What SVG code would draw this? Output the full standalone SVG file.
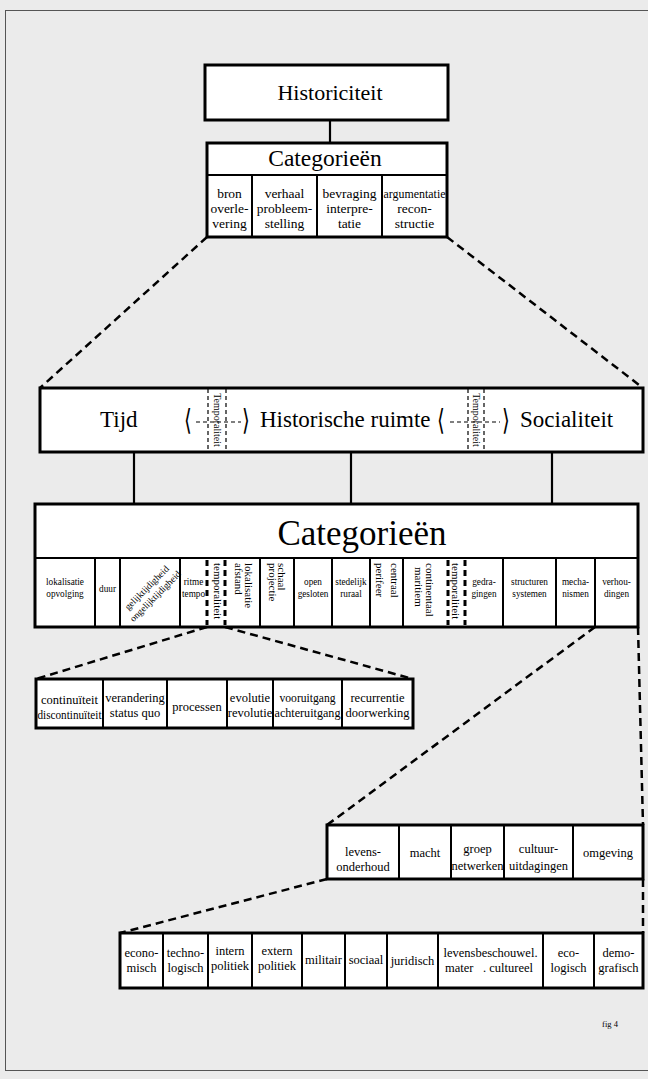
<svg xmlns="http://www.w3.org/2000/svg" width="648" height="1079" viewBox="0 0 648 1079">
<style>
text{font-family:"Liberation Serif","Times New Roman",serif;fill:#000}
.box{fill:#fff;stroke:#000;stroke-width:3}
.dv{stroke:#000;stroke-width:2}
.dash{fill:none;stroke:#000;stroke-width:2.5;stroke-dasharray:8 5}
.dcell{stroke:#000;stroke-width:3;stroke-dasharray:6 4}
.dthin{stroke:#000;stroke-width:1.2;stroke-dasharray:4 3}
.ln{stroke:#000;stroke-width:2.2}
.c13{font-size:13.5px;text-anchor:middle}
.big{font-size:23px}
.cr{font-size:10.5px;text-anchor:middle}
.vt{font-size:11px}
.r12{font-size:12.5px;text-anchor:middle}
.chev{font-family:"DejaVu Sans",sans-serif;font-size:20px}
</style>
<rect x="0" y="0" width="648" height="1079" fill="#ebebeb"/>
<rect x="5.5" y="10.5" width="660" height="1060" fill="none" stroke="#555" stroke-width="1"/>

<g id="connectors">
<line class="ln" x1="330" y1="120" x2="330" y2="143"/>
<line class="dash" x1="207" y1="237" x2="40" y2="388"/>
<line class="dash" x1="447" y1="237" x2="643" y2="388"/>
<line class="ln" x1="134" y1="452" x2="134" y2="504"/>
<line class="ln" x1="351" y1="452" x2="351" y2="504"/>
<line class="ln" x1="552" y1="452" x2="552" y2="504"/>
<line class="dash" x1="207" y1="627" x2="36" y2="679"/>
<line class="dash" x1="225" y1="627" x2="413" y2="679"/>
<line class="dash" x1="595" y1="627" x2="327" y2="825"/>
<line class="dash" x1="638" y1="627" x2="643" y2="825"/>
<line class="dash" x1="327" y1="879" x2="120" y2="933"/>
<line class="dash" x1="643" y1="879" x2="643" y2="933"/>
</g>

<g id="historiciteit">
<rect class="box" x="205" y="65" width="243" height="55"/>
<text x="330" y="100" font-size="22" text-anchor="middle">Historiciteit</text>
</g>

<g id="categorieen-top">
<rect class="box" x="207" y="143" width="240" height="94"/>
<line class="dv" x1="207" y1="175" x2="447" y2="175"/>
<line class="dv" x1="252" y1="175" x2="252" y2="237"/>
<line class="dv" x1="317" y1="175" x2="317" y2="237"/>
<line class="dv" x1="382" y1="175" x2="382" y2="237"/>
<text x="325" y="166" font-size="23.5" text-anchor="middle">Categorieën</text>
<text class="c13" x="229.5" y="198">bron<tspan x="229.5" dy="15">overle-</tspan><tspan x="229.5" dy="15">vering</tspan></text>
<text class="c13" x="284.5" y="198">verhaal<tspan x="284.5" dy="15">probleem-</tspan><tspan x="284.5" dy="15">stelling</tspan></text>
<text class="c13" x="349.5" y="198">bevraging<tspan x="349.5" dy="15">interpre-</tspan><tspan x="349.5" dy="15">tatie</tspan></text>
<text class="c13" x="414.5" y="198" textLength="62" lengthAdjust="spacingAndGlyphs">argumentatie</text>
<text class="c13" x="414.5" y="213">recon-<tspan x="414.5" dy="15">structie</tspan></text>
</g>

<g id="tijd-ruimte-socialiteit">
<rect class="box" x="40" y="388" width="603" height="64"/>
<text class="big" x="100" y="427">Tijd</text>
<text class="big" x="260" y="427">Historische ruimte</text>
<text class="big" x="520" y="427">Socialiteit</text>
<text class="chev" transform="translate(184,430) scale(1,1.45)">⟨</text>
<text class="chev" transform="translate(242,430) scale(1,1.45)">⟩</text>
<text class="chev" transform="translate(437,430) scale(1,1.45)">⟨</text>
<text class="chev" transform="translate(502,430) scale(1,1.45)">⟩</text>
<line class="dthin" x1="196" y1="422" x2="241" y2="422" stroke-dasharray="5 4"/>
<line class="dthin" x1="450" y1="422" x2="500" y2="422" stroke-dasharray="5 4"/>
<line class="dthin" x1="208" y1="389" x2="208" y2="451"/>
<line class="dthin" x1="226" y1="389" x2="226" y2="451"/>
<line class="dthin" x1="468" y1="389" x2="468" y2="451"/>
<line class="dthin" x1="484" y1="389" x2="484" y2="451"/>
<text font-size="10" text-anchor="middle" transform="translate(214,420) rotate(90)">Temporaliteit</text>
<text font-size="10" text-anchor="middle" transform="translate(472.5,420) rotate(90)">Temporaliteit</text>
</g>

<g id="categorieen-main">
<rect class="box" x="35" y="504" width="603" height="123"/>
<line class="dv" x1="35" y1="558" x2="638" y2="558"/>
<text x="362" y="545" font-size="35" text-anchor="middle">Categorieën</text>
<line class="dv" x1="95" y1="558" x2="95" y2="627"/>
<line class="dv" x1="120" y1="558" x2="120" y2="627"/>
<line class="dv" x1="180" y1="558" x2="180" y2="627"/>
<line class="dcell" x1="207" y1="560" x2="207" y2="625"/>
<line class="dcell" x1="225" y1="560" x2="225" y2="625"/>
<line class="dv" x1="260" y1="558" x2="260" y2="627"/>
<line class="dv" x1="294" y1="558" x2="294" y2="627"/>
<line class="dv" x1="332" y1="558" x2="332" y2="627"/>
<line class="dv" x1="370" y1="558" x2="370" y2="627"/>
<line class="dv" x1="403" y1="558" x2="403" y2="627"/>
<line class="dcell" x1="448" y1="560" x2="448" y2="625"/>
<line class="dcell" x1="465" y1="560" x2="465" y2="625"/>
<line class="dv" x1="503" y1="558" x2="503" y2="627"/>
<line class="dv" x1="556" y1="558" x2="556" y2="627"/>
<line class="dv" x1="595" y1="558" x2="595" y2="627"/>

<text class="cr" transform="translate(65,585) scale(0.88,1)">lokalisatie<tspan x="0" dy="12">opvolging</tspan></text>
<text class="cr" transform="translate(107.5,592) scale(0.88,1)">duur</text>
<text class="cr" transform="translate(193.5,585) scale(0.88,1)">ritme<tspan x="0" dy="12">tempo</tspan></text>
<text class="cr" transform="translate(313,585) scale(0.88,1)">open<tspan x="0" dy="12">gesloten</tspan></text>
<text class="cr" transform="translate(351,585) scale(0.88,1)">stedelijk<tspan x="0" dy="12">ruraal</tspan></text>
<text class="cr" transform="translate(484,585) scale(0.88,1)">gedra-<tspan x="0" dy="12">gingen</tspan></text>
<text class="cr" transform="translate(529.5,585) scale(0.88,1)">structuren<tspan x="0" dy="12">systemen</tspan></text>
<text class="cr" transform="translate(575.5,585) scale(0.88,1)">mecha-<tspan x="0" dy="12">nismen</tspan></text>
<text class="cr" transform="translate(616.5,585) scale(0.88,1)">verhou-<tspan x="0" dy="12">dingen</tspan></text>

<text font-size="9.5" text-anchor="middle" transform="translate(149,590) rotate(-45)">gelijktijdigheid<tspan x="0" dy="12">ongelijktijdigheid</tspan></text>

<text class="vt" transform="translate(213.5,563) rotate(90)">temporaliteit</text>
<text class="vt" transform="translate(245,563) rotate(90)">lokalisatie</text>
<text class="vt" transform="translate(234.5,563) rotate(90)">afstand</text>
<text class="vt" transform="translate(278,563) rotate(90)">schaal</text>
<text class="vt" transform="translate(268.5,563) rotate(90)">projectie</text>
<text class="vt" transform="translate(390.5,563) rotate(90)">centraal</text>
<text class="vt" transform="translate(376,563) rotate(90)">perifeer</text>
<text class="vt" transform="translate(426,563) rotate(90)">continentaal</text>
<text class="vt" transform="translate(415,567) rotate(90)">maritiem</text>
<text class="vt" transform="translate(452,563) rotate(90)">temporaliteit</text>
</g>

<g id="temporaliteit-row">
<rect class="box" x="36" y="679" width="377" height="49"/>
<line class="dv" x1="103" y1="679" x2="103" y2="728"/>
<line class="dv" x1="167" y1="679" x2="167" y2="728"/>
<line class="dv" x1="227" y1="679" x2="227" y2="728"/>
<line class="dv" x1="273" y1="679" x2="273" y2="728"/>
<line class="dv" x1="342" y1="679" x2="342" y2="728"/>
<text class="r12" x="69.5" y="704">continuïteit</text>
<text class="r12" x="69.5" y="719" textLength="64" lengthAdjust="spacingAndGlyphs">discontinuïteit</text>
<text class="r12" x="135" y="702">verandering<tspan x="135" dy="15">status quo</tspan></text>
<text class="r12" x="197" y="711">processen</text>
<text class="r12" x="250" y="702">evolutie<tspan x="250" dy="15">revolutie</tspan></text>
<text class="r12" x="307.5" y="702" textLength="56" lengthAdjust="spacingAndGlyphs">vooruitgang</text>
<text class="r12" x="307.5" y="717" textLength="66" lengthAdjust="spacingAndGlyphs">achteruitgang</text>
<text class="r12" x="377.5" y="702">recurrentie<tspan x="377.5" dy="15">doorwerking</tspan></text>
</g>

<g id="verhoudingen-row">
<rect class="box" x="327" y="825" width="316" height="54"/>
<line class="dv" x1="399" y1="825" x2="399" y2="879"/>
<line class="dv" x1="451" y1="825" x2="451" y2="879"/>
<line class="dv" x1="504" y1="825" x2="504" y2="879"/>
<line class="dv" x1="573" y1="825" x2="573" y2="879"/>
<text class="r12" x="363" y="856">levens-<tspan x="363" dy="15">onderhoud</tspan></text>
<text class="r12" x="425" y="857">macht</text>
<text class="r12" x="477.5" y="853">groep<tspan x="477.5" dy="17">netwerken</tspan></text>
<text class="r12" x="538.5" y="853">cultuur-<tspan x="538.5" dy="17">uitdagingen</tspan></text>
<text class="r12" x="608" y="857">omgeving</text>
</g>

<g id="domeinen-row">
<rect class="box" x="120" y="933" width="523" height="55"/>
<line class="dv" x1="163" y1="933" x2="163" y2="988"/>
<line class="dv" x1="208" y1="933" x2="208" y2="988"/>
<line class="dv" x1="252" y1="933" x2="252" y2="988"/>
<line class="dv" x1="302" y1="933" x2="302" y2="988"/>
<line class="dv" x1="345" y1="933" x2="345" y2="988"/>
<line class="dv" x1="387" y1="933" x2="387" y2="988"/>
<line class="dv" x1="438" y1="933" x2="438" y2="988"/>
<line class="dv" x1="543" y1="933" x2="543" y2="988"/>
<line class="dv" x1="594" y1="933" x2="594" y2="988"/>
<text class="r12" x="141.5" y="957">econo-<tspan x="141.5" dy="15">misch</tspan></text>
<text class="r12" x="185.5" y="957">techno-<tspan x="185.5" dy="15">logisch</tspan></text>
<text class="r12" x="230" y="955">intern<tspan x="230" dy="15">politiek</tspan></text>
<text class="r12" x="277" y="955">extern<tspan x="277" dy="15">politiek</tspan></text>
<text class="r12" x="323.5" y="964">militair</text>
<text class="r12" x="366" y="964">sociaal</text>
<text class="r12" x="412.5" y="965">juridisch</text>
<text class="r12" x="490.5" y="957">levensbeschouwel.</text>
<text font-size="12.5" x="445" y="972">mater</text>
<text font-size="12.5" x="483" y="972">. cultureel</text>
<text class="r12" x="568.5" y="957">eco-<tspan x="568.5" dy="15">logisch</tspan></text>
<text class="r12" x="618.5" y="957">demo-<tspan x="618.5" dy="15">grafisch</tspan></text>
</g>

<text x="610" y="1027" font-size="8.5" text-anchor="middle">fig 4</text>
</svg>
